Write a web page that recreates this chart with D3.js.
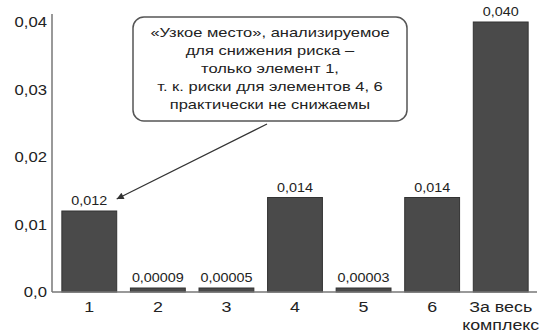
<!DOCTYPE html>
<html><head><meta charset="utf-8">
<script src="https://cdn.jsdelivr.net/npm/d3@7"></script>
<style>body{margin:0;background:#fff}svg{display:block}text{font-family:"Liberation Sans",Arial,sans-serif;fill:#222}</style>
</head><body><svg id="c" width="543" height="333"></svg>
<script>
const categories = ["1","2","3","4","5","6","За весь|комплекс"];
const values = [0.012, 0.00009, 0.00005, 0.014, 0.00003, 0.014, 0.040];
const valueLabels = ["0,012","0,00009","0,00005","0,014","0,00003","0,014","0,040"];
const yTicks = [0, 0.01, 0.02, 0.03, 0.04];
const yTickLabels = ["0,0","0,01","0,02","0,03","0,04"];
const calloutLines = ["«Узкое место», анализируемое","для снижения риска –","только элемент 1,","т. к. риски для элементов 4, 6","практически не снижаемы"];
const calloutTarget = 0; // index of bar pointed to

const svg = d3.select("#c");
const x = d3.scaleBand().domain(categories).range([55, 535]).paddingInner(0.2).paddingOuter(0.1);
const y = d3.scaleLinear().domain([0, 0.04]).range([292, 22]);
const SX = 1.15;
const place = (px, py, sx) => `translate(${px},${py}) scale(${sx},1)`;

// bars
svg.append("g").selectAll("rect").data(values).join("rect")
  .attr("x", (d,i)=>x(categories[i]))
  .attr("width", x.bandwidth())
  .attr("y", d=>Math.min(y(d), y(0)-4))
  .attr("height", d=>Math.max(y(0)-y(d), 4))
  .attr("fill", "#4a4a4a").attr("stroke", "#333").attr("stroke-width", 1);

// value labels
svg.append("g").selectAll("text").data(values).join("text")
  .attr("transform", (d,i)=>place(x(categories[i]) + x.bandwidth()/2, Math.min(y(d), y(0)-4) - 6, SX))
  .attr("text-anchor","middle").attr("font-size", 12.5)
  .text((d,i)=>valueLabels[i]);

// axes lines
svg.append("line").attr("x1",52).attr("x2",52).attr("y1",14).attr("y2",y(0)).attr("stroke","#777").attr("stroke-width",1.5);
svg.append("line").attr("x1",52).attr("x2",537).attr("y1",y(0)).attr("y2",y(0)).attr("stroke","#777").attr("stroke-width",1.5);

// y tick labels
svg.append("g").selectAll("text").data(yTicks).join("text")
  .attr("transform", d=>place(47, y(d), SX)).attr("dy","0.35em")
  .attr("text-anchor","end").attr("font-size", 14.5)
  .text((d,i)=>yTickLabels[i]);

// x labels
const xl = svg.append("g").selectAll("text").data(categories).join("text")
  .attr("transform", d=>place(x(d)+x.bandwidth()/2, 312, SX))
  .attr("text-anchor","middle").attr("font-size", 15.5);
xl.each(function(d){
  const parts = d.split("|");
  d3.select(this).selectAll("tspan").data(parts).join("tspan")
    .attr("x", 0).attr("dy",(p,j)=>j===0?0:18).text(p=>p);
});

// callout
const bx = 133, by = 17, bw = 274, bh = 104;
svg.append("rect").attr("x",bx).attr("y",by).attr("width",bw).attr("height",bh).attr("rx",11)
  .attr("fill","#fff").attr("stroke","#555").attr("stroke-width",1.5);
svg.append("g").selectAll("text").data(calloutLines).join("text")
  .attr("transform",(d,i)=>place(bx+bw/2, by+15+i*18, 1.27)).attr("dy","0.35em")
  .attr("text-anchor","middle").attr("font-size",13).text(d=>d);

svg.append("defs").append("marker").attr("id","ah").attr("viewBox","0 0 10 10")
  .attr("refX",10).attr("refY",5).attr("markerWidth",9).attr("markerHeight",7).attr("orient","auto")
  .attr("markerUnits","userSpaceOnUse")
  .append("path").attr("d","M0,0L10,5L0,10z").attr("fill","#333");
const tx = x(categories[calloutTarget]) + x.bandwidth();
const ty = y(values[calloutTarget]) - 12;
svg.append("line").attr("x1",267).attr("y1",by+bh+3).attr("x2",tx).attr("y2",ty)
  .attr("stroke","#333").attr("stroke-width",1.2).attr("marker-end","url(#ah)");
</script></body></html>
